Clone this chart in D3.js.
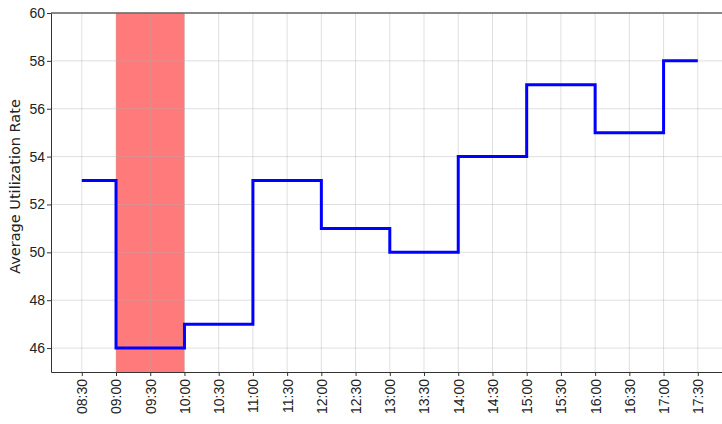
<!DOCTYPE html>
<html>
<head>
<meta charset="utf-8">
<script src="https://cdn.jsdelivr.net/npm/d3@7"></script>
<style>
  body { margin: 0; background: #fff; }
  svg { font-family: "DejaVu Sans", sans-serif; }
  .axis path, .axis line { stroke: #333; }
  .axis text { fill: #222; }
</style>
</head>
<body>
<div id="chart"></div>
<script>
// half-hour time slots and the utilization value at each one
const times = ['08:30', '09:00', '09:30', '10:00', '10:30', '11:00', '11:30', '12:00', '12:30',
               '13:00', '13:30', '14:00', '14:30', '15:00', '15:30', '16:00', '16:30', '17:00', '17:30'];
const rates = [53, 46, 46, 47, 47, 53, 53, 51, 51, 50, 50, 54, 54, 57, 57, 55, 55, 58, 58];
const yTicks = [46, 48, 50, 52, 54, 56, 58, 60];
// highlighted period
const spanStart = '09:00';
const spanEnd = '10:00';

const width = 722, height = 424;
const margin = {top: 13, left: 51, bottom: 52};

const toMin = t => { const [h, m] = t.split(':').map(Number); return h * 60 + m; };

const svg = d3.select('#chart').append('svg')
    .attr('width', width)
    .attr('height', height);

// 5% padding on each side like matplotlib, right edge runs off the page
const tMin = toMin(times[0]), tMax = toMin(times[times.length - 1]);
const pad = (tMax - tMin) * 0.05;
const pxPerMin = (698 - 82) / (tMax - tMin);
const x = d3.scaleLinear()
    .domain([tMin - pad, tMax + pad])
    .range([margin.left, margin.left + (tMax - tMin + 2 * pad) * pxPerMin]);

const y = d3.scaleLinear()
    .domain([45, 60])
    .range([height - margin.bottom, margin.top]);

const plotRight = x.range()[1];

// red span
svg.append('rect')
    .attr('x', x(toMin(spanStart)))
    .attr('y', y(60))
    .attr('width', x(toMin(spanEnd)) - x(toMin(spanStart)))
    .attr('height', y(45) - y(60))
    .attr('fill', '#ff0000')
    .attr('fill-opacity', 0.52);

// grid
svg.append('g').selectAll('line')
    .data(times)
    .join('line')
    .attr('x1', d => x(toMin(d))).attr('x2', d => x(toMin(d)))
    .attr('y1', y(60)).attr('y2', y(45))
    .attr('stroke', '#b0b0b0')
    .attr('stroke-opacity', 0.5)
    .attr('stroke-width', 0.8);

svg.append('g').selectAll('line')
    .data(yTicks)
    .join('line')
    .attr('x1', margin.left).attr('x2', plotRight)
    .attr('y1', d => y(d)).attr('y2', d => y(d))
    .attr('stroke', '#b0b0b0')
    .attr('stroke-opacity', 0.5)
    .attr('stroke-width', 0.8);

// step line
const pts = times.map((t, i) => ({t: toMin(t), v: rates[i]}));
const line = d3.line()
    .x(d => x(d.t))
    .y(d => y(d.v))
    .curve(d3.curveStepAfter);

svg.append('path')
    .datum(pts)
    .attr('fill', 'none')
    .attr('stroke', '#0000ff')
    .attr('stroke-width', 3)
    .attr('d', line);

// top spine
svg.append('line')
    .attr('x1', margin.left).attr('x2', plotRight)
    .attr('y1', y(60)).attr('y2', y(60))
    .attr('stroke', '#666').attr('stroke-width', 1.3);

// axes
const xAxis = d3.axisBottom(x)
    .tickValues(times.map(toMin))
    .tickFormat((d, i) => times[i])
    .tickSize(4)
    .tickSizeOuter(0);

const xAxisG = svg.append('g')
    .attr('class', 'axis')
    .attr('transform', `translate(0,${y(45)})`)
    .call(xAxis);
xAxisG.select('.domain').attr('stroke', '#555');
xAxisG.selectAll('text')
    .attr('font-size', 14)
    .attr('transform', 'rotate(-90)')
    .attr('text-anchor', 'end')
    .attr('x', -7)
    .attr('y', 0)
    .attr('dy', '0.35em');

const yAxis = d3.axisLeft(y)
    .tickValues(yTicks)
    .tickSize(4)
    .tickSizeOuter(0);

const yAxisG = svg.append('g')
    .attr('class', 'axis')
    .attr('transform', `translate(${margin.left},0)`)
    .call(yAxis);
yAxisG.select('.domain').attr('stroke', '#333');
yAxisG.selectAll('text').attr('font-size', 14).attr('x', -6);

svg.append('text')
    .attr('transform', `translate(15,${(y(45) + y(60)) / 2 - 6}) rotate(-90)`)
    .attr('text-anchor', 'middle')
    .attr('dy', '0.35em')
    .attr('font-size', 14.5)
    .attr('fill', '#222')
    .text('Average Utilization Rate');
</script>
</body>
</html>
